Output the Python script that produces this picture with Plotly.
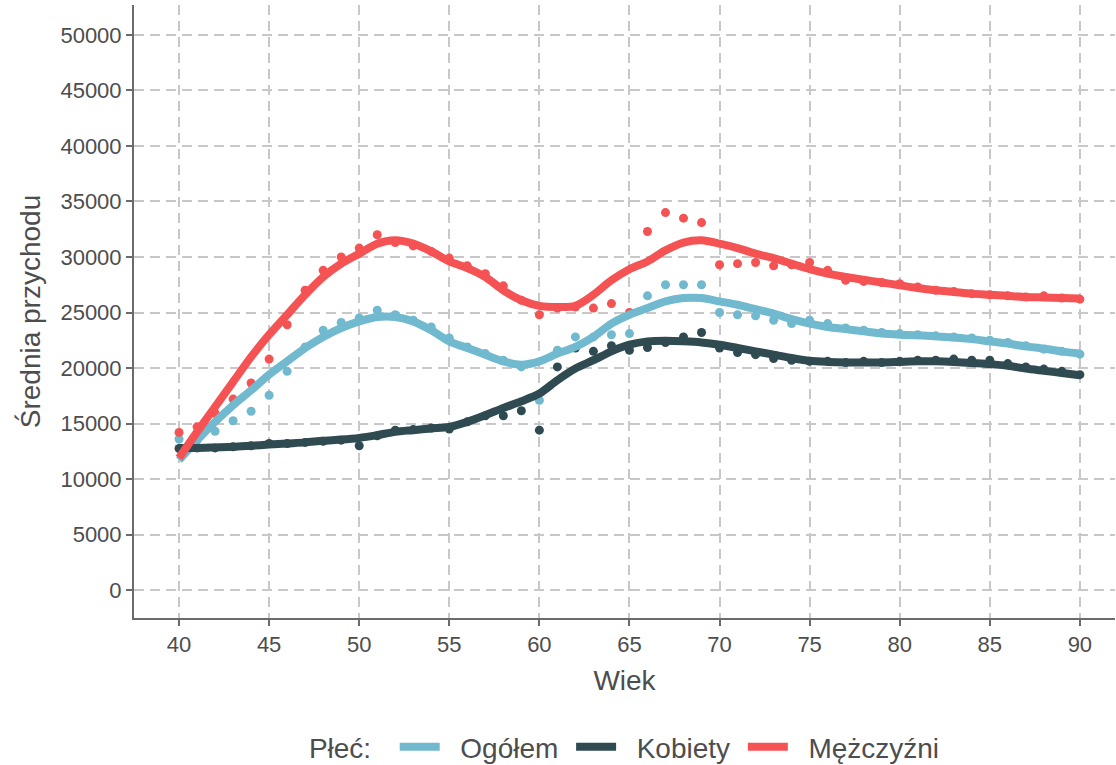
import plotly.graph_objects as go

# ── Palette ────────────────────────────────────────────────────────────────────
C_ALL = "#70b9cf"
C_F   = "#2f4a51"
C_M   = "#f55253"
GRID  = "#c8c8c8"
AXIS  = "#6b6b6b"
TXT   = "#4d4d4d"
FONT  = "Arial, Liberation Sans, sans-serif"
NB    = "\u00a0"

# ── Data ──────────────────────────────────────────────────────────────────────
ages = list(range(40, 91))
y_ticks = list(range(0, 50001, 5000))
y_ticktext = [str(v) for v in y_ticks]
x_ticks = list(range(40, 91, 5))

# observed means
pts_all = [13600, 13500, 14300, 15250, 16100, 17550, 19700, 21900, 23400, 24100,
           24500, 25200, 24800, 24300, 23700, 22700, 21900, 21300, 20700, 20100,
           17100, 21600, 22800, 22800, 23000, 23100, 26500, 27500, 27500, 27500,
           25000, 24800, 24700, 24300, 24000, 24300, 24000, 23600, 23400, 23200,
           23100, 23000, 22900, 22800, 22700, 22500, 22300, 22000, 21700, 21500,
           21250]
pts_f = [12750, 12800, 12800, 12900, 13000, 13200, 13200, 13300, 13400, 13500,
         13000, 13900, 14400, 14450, 14600, 14500, 15150, 15700, 15700, 16150,
         14400, 20100, 21800, 21500, 22000, 21600, 21850, 22300, 22800, 23200,
         21800, 21400, 21200, 20850, 20700, 20600, 20600, 20500, 20600, 20500,
         20600, 20700, 20700, 20800, 20700, 20700, 20400, 20100, 19900, 19700,
         19400]
pts_m = [14200, 14700, 15900, 17200, 18650, 20800, 23900, 27000, 28800, 30000,
         30800, 32000, 31300, 31000, 30500, 29900, 29200, 28500, 27400, 26100,
         24800, 25400, 25500, 25400, 25800, 25000, 32300, 34000, 33500, 33100,
         29300, 29400, 29500, 29200, 29300, 29500, 28800, 27900, 27800, 27700,
         27600, 27300, 27000, 26900, 26700, 26600, 26500, 26400, 26500, 26300,
         26200]

# smoothed trend
fit_all = [11700, 13500, 15150, 16650, 18000, 19400, 20600, 21800, 22800, 23600,
           24200, 24600, 24600, 24200, 23400, 22400, 21800, 21200, 20600, 20300,
           20600, 21300, 21900, 22800, 24000, 24800, 25400, 26000, 26300, 26300,
           26000, 25700, 25300, 24900, 24400, 24000, 23700, 23500, 23300, 23100,
           23000, 22950, 22850, 22750, 22600, 22400, 22200, 21950, 21750, 21500,
           21300]
fit_f = [12800, 12800, 12850, 12900, 13000, 13100, 13200, 13300, 13450, 13550,
         13700, 13950, 14250, 14400, 14550, 14700, 15150, 15750, 16400, 17000,
         17700, 18900, 19950, 20700, 21500, 22100, 22400, 22450, 22400, 22300,
         22100, 21800, 21500, 21200, 20900, 20650, 20550, 20500, 20500, 20500,
         20550, 20600, 20600, 20550, 20450, 20350, 20200, 19950, 19750, 19550,
         19350]
fit_m = [11900, 14250, 16500, 18750, 21000, 23000, 24800, 26600, 28200, 29400,
         30300, 31200, 31500, 31200, 30500, 29600, 29000, 28200, 27000, 26100,
         25600, 25500, 25600, 26600, 27900, 28900, 29600, 30600, 31300, 31500,
         31200, 30800, 30300, 29900, 29400, 28900, 28500, 28200, 27950, 27700,
         27450, 27200, 27000, 26850, 26700, 26600, 26500, 26400, 26350, 26300,
         26250]

series = [
    ("Ogółem", C_ALL, pts_all, fit_all),
    ("Kobiety", C_F, pts_f, fit_f),
    ("Mężczyźni", C_M, pts_m, fit_m),
]

fig = go.Figure()

for name, col, pts, fit in series:
    fig.add_trace(go.Scatter(
        x=ages, y=pts, mode="markers",
        marker=dict(color=col, size=9, line=dict(width=0)),
        showlegend=False, name=name,
    ))
for name, col, pts, fit in series:
    fig.add_trace(go.Scatter(
        x=ages, y=fit, mode="lines",
        line=dict(color=col, width=8, shape="spline", smoothing=0.8),
        name=NB * 2 + name + NB,   # padding mimics ggplot key spacing
    ))

fig.update_layout(
    width=1116, height=765,
    paper_bgcolor="white", plot_bgcolor="white",
    font=dict(family=FONT, color=TXT),
    margin=dict(l=134, r=1, t=5, b=147),
    legend=dict(
        orientation="h",
        x=0.505, xanchor="center",
        yref="container", y=0.0235, yanchor="middle",
        title=dict(text="Płeć:" + NB * 2, font=dict(size=28, color=TXT), side="left"),
        font=dict(size=28, color=TXT),
        itemwidth=40,
    ),
)

fig.update_xaxes(
    range=[37.5, 91.95],
    tickvals=x_ticks,
    title=dict(text="Wiek", font=dict(size=28, color=TXT), standoff=14),
    tickfont=dict(size=22, color=TXT),
    showgrid=True, gridcolor=GRID, griddash="10px,6px", gridwidth=1.8,
    zeroline=False, automargin=False,
    showline=True, linecolor=AXIS, linewidth=2,
    ticks="outside", ticklen=6, tickcolor=AXIS, tickwidth=2,
)
fig.update_yaxes(
    range=[-2520, 52700],
    tickvals=y_ticks, ticktext=y_ticktext,
    title=dict(text="Średnia przychodu", font=dict(size=28, color=TXT), standoff=12),
    tickfont=dict(size=22, color=TXT),
    showgrid=True, gridcolor=GRID, griddash="10px,6px", gridwidth=1.8,
    zeroline=False, automargin=False,
    showline=True, linecolor=AXIS, linewidth=2,
    ticks="outside", ticklen=6, tickcolor=AXIS, tickwidth=2,
)

fig.write_html(
    "out.html",
    config={"displayModeBar": False},
    post_script="document.body.style.margin='0px';",
)
